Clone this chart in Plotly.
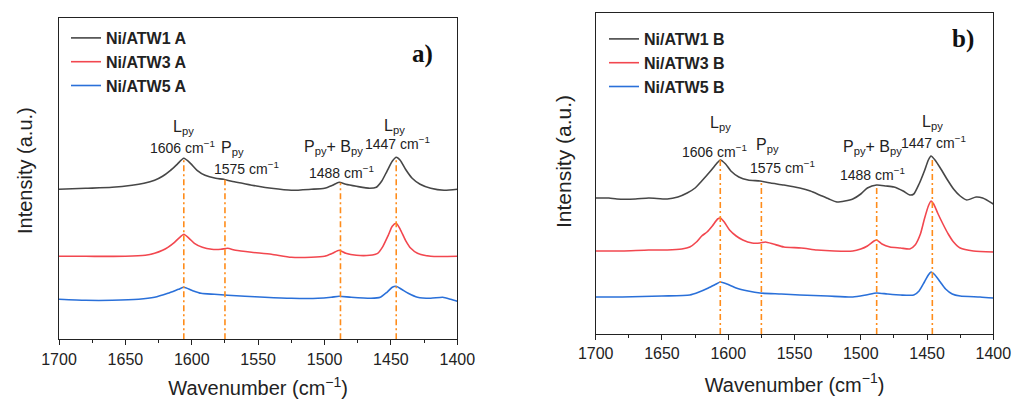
import numpy as np
import plotly.graph_objects as go

# ---------------- data ----------------
# Panel a
wn_a1 = [1700, 1680, 1660, 1645, 1636, 1628, 1622, 1616, 1611, 1606, 1601, 1596, 1590, 1582, 1576, 1570, 1562, 1550, 1540, 1525, 1510, 1500, 1494, 1489, 1484, 1476, 1466, 1461, 1457, 1453, 1449, 1446, 1443, 1439, 1434, 1428, 1420, 1410, 1400]
int_a1 = [150, 151, 152, 154, 156, 159, 163, 169, 175, 181, 176, 169, 164, 161, 160, 158, 156, 153, 151, 149, 150, 151, 154, 157, 155, 153, 151, 152, 158, 168, 178, 182, 179, 170, 161, 155, 151, 149, 150]

wn_a3 = [1700, 1680, 1650, 1635, 1628, 1622, 1618, 1613, 1609, 1606, 1602, 1598, 1592, 1585, 1578, 1573, 1567, 1555, 1540, 1525, 1510, 1500, 1494, 1489, 1484, 1476, 1466, 1460, 1456, 1452, 1449, 1446, 1443, 1439, 1435, 1430, 1420, 1400]
int_a3 = [83, 83, 83, 84, 86, 89, 92, 97, 102, 105, 101, 96, 92, 90, 90, 91, 89, 87, 85, 82, 82, 83, 86, 89, 86, 84, 84, 86, 93, 104, 113, 116, 110, 99, 91, 86, 83, 83]

wn_a5 = [1700, 1680, 1660, 1640, 1628, 1618, 1610, 1606, 1600, 1593, 1583, 1573, 1560, 1545, 1525, 1505, 1495, 1489, 1480, 1465, 1458, 1453, 1449, 1446, 1442, 1437, 1430, 1420, 1411, 1405, 1400]
int_a5 = [40, 39, 39, 40, 42, 46, 50, 52, 49, 46, 45, 44, 43, 42, 41, 41, 42, 43, 42, 41, 42, 47, 52, 53, 50, 46, 42, 41, 42, 40, 38]

# Panel b
wn_b1 = [1700, 1690, 1684, 1670, 1660, 1646, 1638, 1631, 1625, 1620, 1614, 1609, 1606, 1602, 1598, 1592, 1585, 1576, 1568, 1558, 1546, 1538, 1531, 1524, 1518, 1512, 1506, 1500, 1495, 1488, 1481, 1475, 1468, 1463, 1460, 1456, 1452, 1449, 1447, 1444, 1440, 1435, 1430, 1425, 1420, 1413, 1408, 1400]
int_b1 = [136, 136, 135, 135, 136, 135, 137, 141, 146, 153, 162, 170, 174, 170, 163, 157, 154, 153, 151, 149, 146, 143, 139, 135, 132, 133, 135, 140, 146, 149, 148, 147, 143, 139, 140, 150, 163, 174, 178, 174, 166, 155, 145, 138, 134, 137, 136, 130]

wn_b3 = [1700, 1680, 1660, 1646, 1635, 1629, 1624, 1620, 1616, 1612, 1608, 1606, 1603, 1599, 1594, 1589, 1582, 1576, 1572, 1566, 1558, 1545, 1533, 1520, 1506, 1500, 1495, 1490, 1488, 1484, 1478, 1470, 1463, 1459, 1455, 1452, 1449, 1447, 1445, 1442, 1438, 1434, 1430, 1425, 1415, 1400]
int_b3 = [83, 83, 84, 84, 85, 87, 92, 98, 102, 108, 115, 116, 112, 104, 98, 94, 91, 91, 92, 90, 87, 86, 84, 83, 83, 85, 88, 93, 94, 90, 87, 86, 85, 89, 100, 115, 128, 133, 130, 121, 110, 100, 92, 86, 83, 82]

wn_b5 = [1700, 1680, 1650, 1629, 1622, 1615, 1609, 1606, 1601, 1594, 1585, 1576, 1560, 1546, 1525, 1506, 1496, 1488, 1480, 1470, 1460, 1456, 1452, 1449, 1447, 1444, 1440, 1436, 1431, 1425, 1410, 1400]
int_b5 = [37, 37, 38, 39, 42, 46, 50, 52, 50, 46, 43, 41, 40, 39, 38, 37, 39, 41, 40, 39, 39, 43, 52, 59, 62, 59, 52, 45, 40, 38, 37, 36]

names_a = ["Ni/ATW1 A", "Ni/ATW3 A", "Ni/ATW5 A"]
names_b = ["Ni/ATW1 B", "Ni/ATW3 B", "Ni/ATW5 B"]

peak_positions = [1606, 1575, 1488, 1446]
peak_labels_top = ["L<sub>py</sub>", "P<sub>py</sub>", "P<sub>py</sub>+ B<sub>py</sub>", "L<sub>py</sub>"]
peak_labels_num = ["1606 cm<sup>−1</sup>", "1575 cm<sup>−1</sup>", "1488 cm<sup>−1</sup>", "1447 cm<sup>−1</sup>"]

tick_vals = [1700, 1650, 1600, 1550, 1500, 1450, 1400]

# ---------------- style ----------------
colors = ["#474747", "#f2474f", "#2a70d9"]
orange = "#ff8c1a"
FONT = "Liberation Sans, Arial, sans-serif"

fig = go.Figure()

panels = [
    ("x", "y", "legend", [(wn_a1, int_a1), (wn_a3, int_a3), (wn_a5, int_a5)], names_a),
    ("x2", "y2", "legend2", [(wn_b1, int_b1), (wn_b3, int_b3), (wn_b5, int_b5)], names_b),
]

for xa, ya, leg, series, names in panels:
    for (wx, wy), nm, c in zip(series, names, colors):
        fig.add_trace(go.Scatter(
            x=wx, y=wy, name=nm, mode="lines", xaxis=xa, yaxis=ya,
            line=dict(color=c, width=1.6, shape="spline", smoothing=0.6),
            legend=leg,
        ))
    # vertical dash-dot markers up to the top (gray) spectrum
    top_x = np.array(series[0][0])[::-1]
    top_y = np.array(series[0][1])[::-1]
    for p in peak_positions:
        h = float(np.interp(p, top_x, top_y))
        fig.add_trace(go.Scatter(
            x=[p, p], y=[0, h], mode="lines", xaxis=xa, yaxis=ya, showlegend=False,
            line=dict(color=orange, width=1.6, dash="6px,3px,2px,3px"),
            hoverinfo="skip",
        ))

W, H = 1013, 399

def px_x(p):
    return p / W

def px_y(p):
    return 1 - p / H

def xaxis_def(domain, anchor, standoff):
    return dict(
        domain=domain, anchor=anchor,
        range=[1700, 1400], tickvals=tick_vals, ticks="outside", ticklen=5, tickwidth=1.2,
        tickcolor="#222", showline=True, linecolor="#222", linewidth=1.3, mirror=True,
        showgrid=False, zeroline=False,
        minor=dict(dtick=25, ticks="outside", ticklen=3, tickcolor="#222", tickwidth=1.2, tick0=1400),
        tickfont=dict(family=FONT, size=16, color="#222"),
        title=dict(text="Wavenumber (cm<sup>−1</sup>)", font=dict(family=FONT, size=20, color="#222"),
                   standoff=standoff),
        automargin=False,
    )

def yaxis_def(domain, anchor, top):
    return dict(
        domain=domain, anchor=anchor, range=[0, top],
        showline=True, linecolor="#222", linewidth=1.3, mirror=True, showgrid=False,
        zeroline=False, showticklabels=False, ticks="", automargin=False,
    )

fig.update_layout(
    width=W, height=H, margin=dict(l=0, r=0, t=0, b=0),
    paper_bgcolor="white", plot_bgcolor="white",
    xaxis=xaxis_def([px_x(59), px_x(457.3)], "y", 19),
    yaxis=yaxis_def([px_y(339.3), px_y(18.3)], "x", 321),
    xaxis2=xaxis_def([px_x(595.7), px_x(993.3)], "y2", 16),
    yaxis2=yaxis_def([px_y(334), px_y(12.7)], "x2", 321.3),
    legend=dict(x=px_x(66), y=px_y(21), xanchor="left", yanchor="top",
                font=dict(family=FONT, size=16, color="#222", weight="bold"),
                bgcolor="rgba(0,0,0,0)", tracegroupgap=0, itemwidth=30),
    legend2=dict(x=px_x(604), y=px_y(22), xanchor="left", yanchor="top",
                 font=dict(family=FONT, size=16, color="#222", weight="bold"),
                 bgcolor="rgba(0,0,0,0)", tracegroupgap=0, itemwidth=30),
    showlegend=True,
)

ann = []
# peak label positions (wavenumber, intensity)
pos_a_top = [(1606, 212), (1569, 191), (1493, 192), (1447, 213)]
pos_a_num = [(1607, 192), (1559, 171), (1487, 167), (1445, 196)]
pos_b_top = [(1606, 211), (1570, 189), (1491, 187), (1446, 212)]
pos_b_num = [(1610, 183), (1559, 167), (1491, 160), (1445, 192)]
for xa, ya, pt, pn in [("x", "y", pos_a_top, pos_a_num), ("x2", "y2", pos_b_top, pos_b_num)]:
    for (x, y), t in zip(pt, peak_labels_top):
        ann.append(dict(x=x, y=y, xref=xa, yref=ya, text=t, showarrow=False,
                        font=dict(family=FONT, size=16, color="#222")))
    for (x, y), t in zip(pn, peak_labels_num):
        ann.append(dict(x=x, y=y, xref=xa, yref=ya, text=t, showarrow=False,
                        font=dict(family=FONT, size=14, color="#222")))
# panel letters
serif = dict(family="Liberation Serif, Times New Roman, serif", size=25, color="#111")
ann.append(dict(x=px_x(422), y=px_y(54), xref="paper", yref="paper", text="<b>a)</b>",
                xanchor="center", yanchor="middle", showarrow=False, font=serif))
ann.append(dict(x=px_x(963), y=px_y(39), xref="paper", yref="paper", text="<b>b)</b>",
                xanchor="center", yanchor="middle", showarrow=False, font=serif))
# y-axis titles
ann.append(dict(x=px_x(25), y=px_y(171), xref="paper", yref="paper", text="Intensity (a.u.)",
                xanchor="center", yanchor="middle", textangle=-90, showarrow=False,
                font=dict(family=FONT, size=20, color="#222")))
ann.append(dict(x=px_x(563), y=px_y(162), xref="paper", yref="paper", text="Intensity (a.u.)",
                xanchor="center", yanchor="middle", textangle=-90, showarrow=False,
                font=dict(family=FONT, size=21, color="#222")))
fig.update_layout(annotations=ann)

fig.write_html("out.html")
